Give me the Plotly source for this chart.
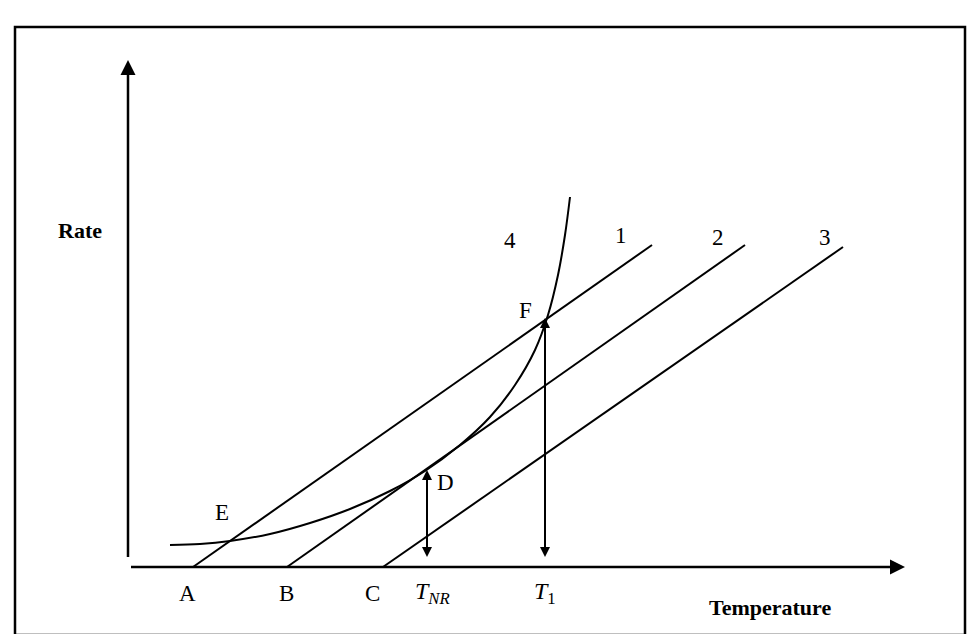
import plotly.graph_objects as go

# pixel-space schematic coordinates (x right, y measured from bottom of 634 canvas)
H = 634
line_names = ["1", "2", "3"]
line_x0 = [193, 287, 383]
line_x1 = [652, 745, 843]
line_y0 = [552, 552, 552]
line_y1 = [230, 230, 232]

curve_x = [170, 200, 230, 270, 310, 350, 390, 425, 460, 490, 515, 535, 548, 558, 565, 570]
curve_y = [530, 529, 526, 519, 508, 494, 476, 456, 430, 402, 370, 335, 300, 260, 220, 182]

arrow_x = [427, 545]
arrow_top = [455, 303]
axis_y = 552
axis_x = 128

pt_labels = ["A", "B", "C", "E", "D", "F", "4", "1", "2", "3"]
pt_x = [187, 286, 372, 222, 445, 525, 510, 621, 718, 825]
pt_y = [578, 578, 578, 497, 467, 295, 225, 220, 222, 222]

fig = go.Figure()
for i in range(3):
    fig.add_trace(go.Scatter(x=[line_x0[i], line_x1[i]], y=[H - line_y0[i], H - line_y1[i]],
                             mode="lines", line=dict(color="black", width=2), showlegend=False))
fig.add_trace(go.Scatter(x=curve_x, y=[H - v for v in curve_y], mode="lines",
                         line=dict(color="black", width=2, shape="spline"), showlegend=False))

serif = "Liberation Serif, Times New Roman, serif"
ann = []
# axes with arrowheads
ann.append(dict(x=905, y=H - axis_y, ax=axis_x, ay=H - axis_y, xref="x", yref="y", axref="x", ayref="y",
                showarrow=True, arrowhead=2, arrowsize=1.2, arrowwidth=2.5, arrowcolor="black", text=" "))
ann.append(dict(x=axis_x, y=H - 45, ax=axis_x, ay=H - axis_y, xref="x", yref="y", axref="x", ayref="y",
                showarrow=True, arrowhead=2, arrowsize=1.2, arrowwidth=2.5, arrowcolor="black", text=" "))
for xa, yt in zip(arrow_x, arrow_top):
    ann.append(dict(x=xa, y=H - yt, ax=xa, ay=H - axis_y, xref="x", yref="y", axref="x", ayref="y",
                    showarrow=True, arrowhead=2, startarrowhead=2, arrowside="end+start",
                    arrowsize=1, arrowwidth=2, arrowcolor="black", text=" "))
for t, x, y in zip(pt_labels, pt_x, pt_y):
    ann.append(dict(x=x, y=H - y, xref="x", yref="y", text=t, showarrow=False,
                    font=dict(family=serif, size=23, color="black")))
ann.append(dict(x=432, y=H - 578, xref="x", yref="y", text="<i>T</i><sub><i>NR</i></sub>", showarrow=False,
                font=dict(family=serif, size=24, color="black")))
ann.append(dict(x=545, y=H - 578, xref="x", yref="y", text="<i>T</i><sub>1</sub>", showarrow=False,
                font=dict(family=serif, size=24, color="black")))
ann.append(dict(x=80, y=H - 215, xref="x", yref="y", text="<b>Rate</b>", showarrow=False,
                font=dict(family=serif, size=22, color="black")))
ann.append(dict(x=770, y=H - 592, xref="x", yref="y", text="<b>Temperature</b>", showarrow=False,
                font=dict(family=serif, size=22, color="black")))

fig.update_layout(
    width=980, height=634, margin=dict(l=0, r=0, t=0, b=0),
    paper_bgcolor="white", plot_bgcolor="white", annotations=ann,
    xaxis=dict(range=[8, 988], visible=False, fixedrange=True),
    yaxis=dict(range=[7, 641], visible=False, fixedrange=True),
    shapes=[dict(type="rect", xref="x", yref="y", x0=15, x1=965, y0=H - 620, y1=H - 12,
                 line=dict(color="black", width=2.5))],
)
fig.write_html("out.html")
